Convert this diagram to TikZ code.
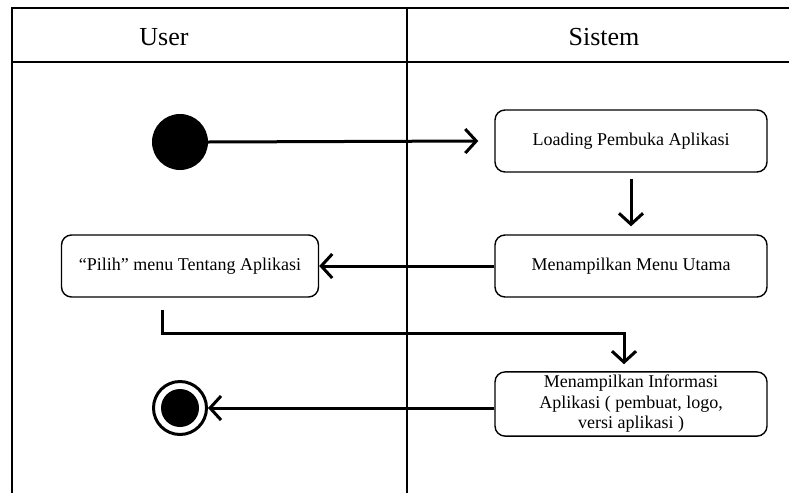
\documentclass[tikz,border=0pt]{standalone}
\usepackage{fontspec}
\setmainfont{Liberation Serif}
\usepackage{tikz}
\usetikzlibrary{arrows.meta, positioning, calc}

\begin{document}
\begin{tikzpicture}[
    x=1pt, y=-1pt,
    % --- node styles ---
    lane/.style={line width=1.8pt},
    head/.style={font=\fontsize{26}{30}\selectfont, inner sep=0pt},
    act/.style={rectangle, rounded corners=10pt, draw=black, line width=1.4pt,
        minimum width=272pt, minimum height=62pt, align=center,
        font=\fontsize{18}{20.5}\selectfont},
    startnode/.style={circle, fill=black, minimum size=56pt, inner sep=0pt},
    endnode/.style={circle, draw=black, line width=3pt, fill=white,
        minimum size=53pt, inner sep=0pt},
    % --- arrow styles ---
    flow/.style={-{Straight Barb[length=11pt, width=24pt]}, line width=3pt}
]
\useasboundingbox (0,0) rectangle (789,493);

%%% ================= SWIMLANES =================
\draw [lane] (789,8) -- (12,8) -- (12,493);
\draw [lane] (12,62) -- (789,62);
\draw [lane] (407,8) -- (407,493);
\node (user)   [head] at (164,37) {User};
\node (sistem) [head] at (604,37) {Sistem};

%%% ================= ACTIONS =================
\node (start)   [startnode] at (180,142) {};
\node (loading) [act] at (631,141) {Loading Pembuka Aplikasi};
\node (menu)    [act] at (631,266) {Menampilkan Menu Utama};
\node (pilih)   [act, minimum width=257pt] at (190,266)
    {“Pilih” menu Tentang Aplikasi};
\node (info)    [act] at (631,404)
    {Menampilkan Informasi\\Aplikasi ( pembuat, logo,\\versi aplikasi )};
\node (stop)    [endnode] at (180,408) {};
\fill (stop) circle (19pt);

%%% ================= ARROWS =================
\draw [flow] (start.east) -- ([xshift=-16pt]loading.west);
\draw [flow] ([yshift=-6pt]loading.south) -- ([yshift=8pt]menu.north);
\draw [flow] (menu.west) -- (pilih.east);
\draw [flow] ([xshift=-28pt,yshift=-12pt]pilih.south) -- ++(0,24)
    -| ([xshift=-7pt,yshift=7pt]info.north);
\draw [flow] (info.west |- stop) -- (stop.east);

\end{tikzpicture}
\end{document}
